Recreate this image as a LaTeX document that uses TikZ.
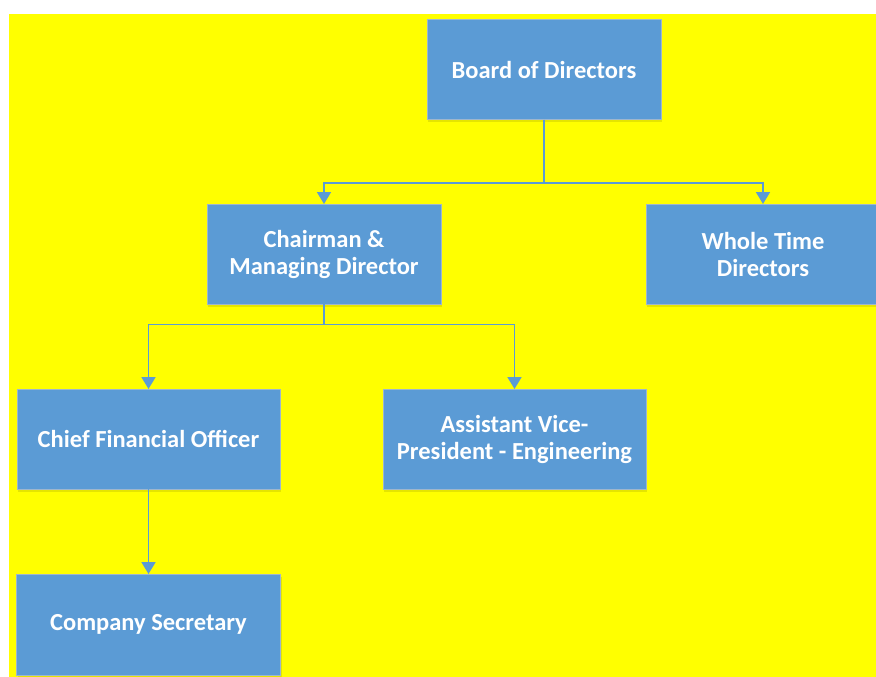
\documentclass[tikz,border=0pt]{standalone}
\usepackage{fontspec}
\setmainfont{Carlito}
\usetikzlibrary{arrows.meta,shadows}

\definecolor{boxblue}{RGB}{91,155,213}
\definecolor{boxedge}{RGB}{158,182,206}
\definecolor{sheet}{RGB}{255,255,0}

\begin{document}
\begin{tikzpicture}[x=1pt,y=-1pt,
    post/.style={rectangle, fill=boxblue, draw=boxedge, line width=1pt,
        minimum height=100pt, align=center, text=white, outer sep=0pt,
        font=\fontsize{24.5}{27}\selectfont\bfseries,
        drop shadow={shadow xshift=1pt, shadow yshift=-2.5pt, opacity=0.1, fill=black}},
    link/.style={draw=boxblue, line width=1.7pt, -{Triangle[width=14pt,length=12pt]}}]

% STEP 1: Page and yellow sheet.
\useasboundingbox (0,0) rectangle (876,677);
\fill[white] (0,0) rectangle (876,677);
\fill[sheet] (9,14) rectangle (880,680);

% STEP 2: The posts.
\node[post, minimum width=234pt] (board) at (544,69.5) {Board of Directors};
\node[post, minimum width=234pt] (chair) at (324,254) {Chairman \&\\Managing Director};
\node[post, minimum width=234pt] (whole) at (763,254) {Whole Time\\Directors};
\node[post, minimum width=263pt] (cfo) at (148.5,439) {Chief Financial Officer};
\node[post, minimum width=263pt] (avp) at (514.5,439) {Assistant Vice-\\President - Engineering};
\node[post, minimum width=264pt, minimum height=101pt] (sec) at (148.5,624.5) {Company Secretary};

% STEP 3: Reporting lines.
\coordinate (J1) at (544,183);
\coordinate (J2) at (324,324.5);
\draw[draw=boxblue, line width=1.7pt] (board.south) -- (J1);
\draw[link] (J1) -| (chair.north);
\draw[link] (J1) -| (whole.north);
\draw[draw=boxblue, line width=1.7pt] (chair.south) -- (J2);
\draw[link] (J2) -| (cfo.north);
\draw[link] (J2) -| (avp.north);
\draw[link] (cfo.south) -- (sec.north);

\end{tikzpicture}
\end{document}
